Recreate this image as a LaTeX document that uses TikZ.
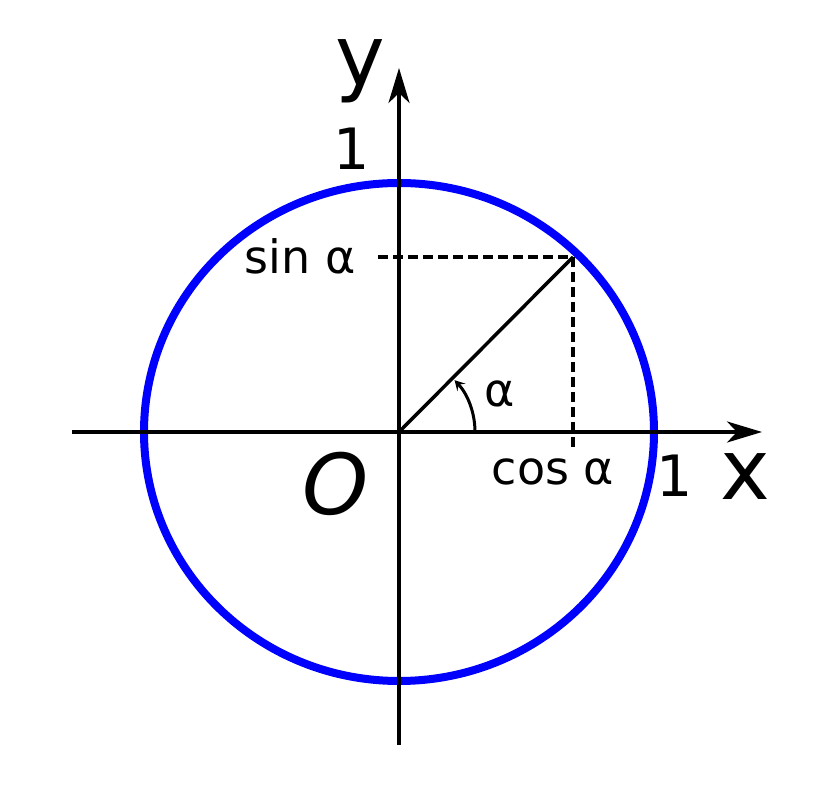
\documentclass[tikz,border=0pt]{standalone}
\usepackage{fontspec}
\setmainfont{DejaVu Sans}
\usetikzlibrary{arrows.meta}
\definecolor{circblue}{RGB}{0,0,255}
\tikzset{
  axis/.style={line width=3.5bp, -{Stealth[length=35bp,width=21bp,inset=10bp]}},
  unitcircle/.style={line width=8bp, draw=circblue},
  helper/.style={line width=3.2bp, dash pattern=on 10bp off 5bp},
  radius line/.style={line width=3.5bp},
  anglearc/.style={line width=3bp, -{Stealth[length=10bp,width=11bp,inset=4bp]}},
  biglabel/.style={font=\fontsize{84bp}{90bp}\selectfont, anchor=base, inner sep=0pt},
  onelabel/.style={font=\fontsize{57bp}{60bp}\selectfont, anchor=base, inner sep=0pt},
  smalllabel/.style={font=\fontsize{46bp}{50bp}\selectfont, anchor=base, inner sep=0pt}
}
\begin{document}
\begin{tikzpicture}[x=1bp,y=1bp]
\useasboundingbox (0,0) rectangle (840,786);
\fill[white] (0,0) rectangle (840,786);
\coordinate (O) at (399,354);
\coordinate (P) at (573,529);
\coordinate (xs) at (72,354);
\coordinate (xe) at (762,354);
\coordinate (ys) at (399,41);
\coordinate (ye) at (399,718);
\coordinate (sinend) at (378,529);
\coordinate (cosend) at (573,336);
\coordinate (arcstart) at (475,354);
% circle
\draw[unitcircle] (O) ellipse [x radius=255, y radius=249];
% axes
\draw[axis] (xs) -- (xe);
\draw[axis] (ys) -- (ye);
% radius
\draw[radius line] (O) -- (P);
% dashed projections
\draw[helper] (sinend) -- (P) -- (cosend);
% angle arc
\draw[anglearc] (arcstart) arc[start angle=0, end angle=43, radius=76];
% labels
\node[biglabel] (ylab) at (360,700) {y};
\node[biglabel] (xlab) at (745,286) {x};
\node[biglabel] (olab) at (336,271) {\itshape O};
\node[onelabel] (one1) at (352,616) {1};
\node[onelabel] (one2) at (675,289) {1};
\node[smalllabel] (sinlab) at (300,512) {sin α};
\node[smalllabel] (coslab) at (553,301) {cos α};
\node[smalllabel] (alab) at (500,379) {α};
\end{tikzpicture}
\end{document}
